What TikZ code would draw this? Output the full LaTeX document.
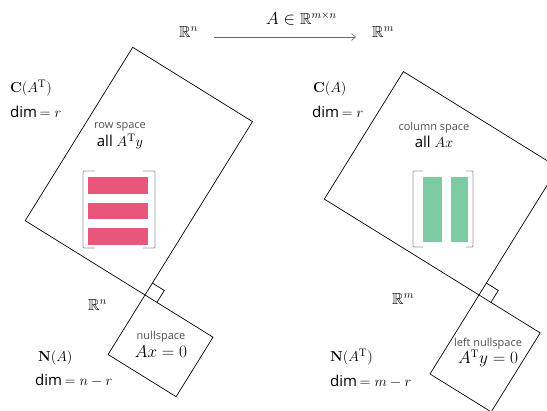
\documentclass[tikz,border=0pt]{standalone}
\usepackage{amsmath,amssymb}
\usepackage[no-math]{fontspec}
\newfontfamily\sansf{Open Sans}
\usetikzlibrary{arrows.meta}
\definecolor{rowpink}{HTML}{E8567C}
\definecolor{colgreen}{HTML}{7DCBA3}
\definecolor{brk}{HTML}{9A9A9A}
\definecolor{smallgray}{HTML}{505050}
\tikzset{
  rectline/.style={draw=black, line width=0.7pt, line join=miter},
  lbl/.style={inner sep=0pt, font=\fontsize{15}{18}\selectfont},
  mathlbl/.style={inner sep=0pt, font=\fontsize{16}{19}\selectfont},
  smalllbl/.style={inner sep=0pt, text=smallgray, font=\sansf\fontsize{11}{13}\selectfont},
  bracketline/.style={draw=brk, line width=0.8pt, rounded corners=1pt},
  maparrow/.style={draw=black!60, line width=0.6pt, -{Straight Barb[length=4pt,width=7pt]}},
}
\begin{document}
\begin{tikzpicture}[x=1pt,y=-1pt]
\useasboundingbox (0,0) rectangle (547,411);
\clip (0,0) rectangle (547,411);

% ---------- top map ----------
\node[mathlbl, anchor=base west] (Rntop) at (179,38) {$\mathbb{R}^n$};
\node[mathlbl, anchor=base west] (Rmtop) at (372,38) {$\mathbb{R}^m$};
\node[mathlbl, anchor=base west] (Amap) at (266,25) {$A\in\mathbb{R}^{m\times n}$};
\coordinate (arrS) at (214,37);
\coordinate (arrE) at (356,37);
\draw[maparrow] (arrS) -- (arrE);

% ---------- left: row space ----------
\coordinate (K1) at (145,295);
\coordinate (R1) at (252.5,121.6);
\coordinate (T1) at (132.7,47.3);
\coordinate (L1) at (25.2,220.7);
\draw[rectline] (K1) -- (R1) -- (T1) -- (L1) -- cycle;
% nullspace
\coordinate (W1) at (213.0,337.2);
\coordinate (B1) at (176.1,396.7);
\coordinate (Z1) at (108.1,354.5);
\draw[rectline] (K1) -- (W1) -- (B1) -- (Z1) -- cycle;
% right-angle mark
\coordinate (M1a) at (152.4,283.1);
\coordinate (M1b) at (164.3,290.5);
\coordinate (M1c) at (156.9,302.4);
\draw[rectline] (M1a) -- (M1b) -- (M1c);

% row matrix
\fill[rowpink] (88,177) rectangle (148,194);
\fill[rowpink] (88,203) rectangle (148,219);
\fill[rowpink] (88,228) rectangle (148,245);
\draw[bracketline] (95,171) -- (83,171) -- (83,248) -- (95,248);
\draw[bracketline] (143,171) -- (155,171) -- (155,248) -- (143,248);

\node[lbl, anchor=base west] (CAT) at (10,93) {$\mathbf{C}(A^{\mathrm{T}})$};
\node[lbl, anchor=base west] (dimL) at (10,118) {\sansf dim\,$= r$};
\node[smalllbl, anchor=base] (rowsp) at (120,129) {row space};
\node[lbl, anchor=base] (allATy) at (120,147) {\sansf all $A^{\mathrm{T}}y$};

\node[mathlbl, anchor=base west] (Rnlow) at (88,311) {$\mathbb{R}^n$};
\node[smalllbl, anchor=base] (nullsp) at (161,340) {nullspace};
\node[mathlbl, anchor=base] (Axeq) at (161,358) {$Ax=0$};
\node[lbl, anchor=base west] (NA) at (38,362) {$\mathbf{N}(A)$};
\node[lbl, anchor=base west] (dimNA) at (35,386) {\sansf dim\,$= n-r$};

% ---------- right: column space ----------
\coordinate (K2) at (479,295);
\coordinate (R2) at (558.1,167.5);
\coordinate (T2) at (403.4,71.6);
\coordinate (L2) at (324.3,199.1);
\draw[rectline] (K2) -- (R2) -- (T2) -- (L2) -- cycle;
% left nullspace
\coordinate (W2) at (540.2,332.9);
\coordinate (B2) at (491.2,411.9);
\coordinate (Z2) at (430.0,374.0);
\draw[rectline] (K2) -- (W2) -- (B2) -- (Z2) -- cycle;
\coordinate (M2a) at (486.4,283.1);
\coordinate (M2b) at (498.3,290.5);
\coordinate (M2c) at (490.9,302.4);
\draw[rectline] (M2a) -- (M2b) -- (M2c);

% column matrix
\fill[colgreen] (423,177) rectangle (442,242);
\fill[colgreen] (451,177) rectangle (468,242);
\draw[bracketline] (423,171) -- (413,171) -- (413,247) -- (423,247);
\draw[bracketline] (466,171) -- (473,171) -- (473,247) -- (466,247);

\node[lbl, anchor=base west] (CA) at (313,93) {$\mathbf{C}(A)$};
\node[lbl, anchor=base west] (dimR) at (312,118) {\sansf dim\,$= r$};
\node[smalllbl, anchor=base] (colsp) at (434,131) {column space};
\node[lbl, anchor=base] (allAx) at (434,148) {\sansf all $Ax$};

\node[mathlbl, anchor=base west] (Rmlow) at (392,305) {$\mathbb{R}^m$};
\node[smalllbl, anchor=base] (lnullsp) at (488,347) {left nullspace};
\node[mathlbl, anchor=base] (ATyeq) at (488,364) {$A^{\mathrm{T}}y=0$};
\node[lbl, anchor=base west] (NAT) at (330,362) {$\mathbf{N}(A^{\mathrm{T}})$};
\node[lbl, anchor=base west] (dimNAT) at (330,387) {\sansf dim\,$= m-r$};
\end{tikzpicture}
\end{document}
